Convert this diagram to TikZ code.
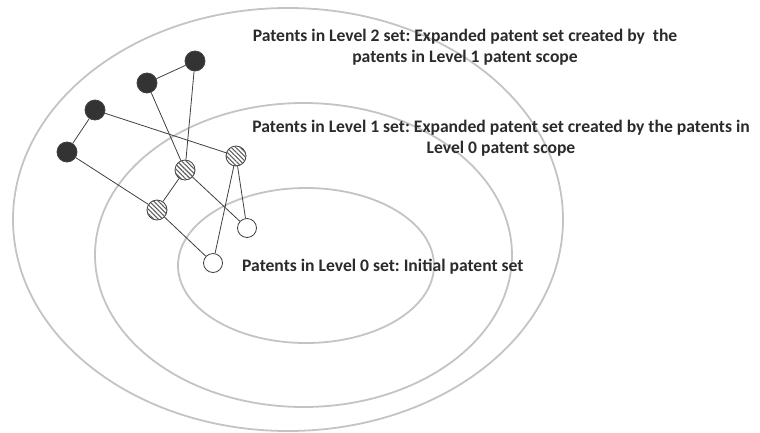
\documentclass[tikz,border=0pt]{standalone}
\usepackage{fontspec}
\setmainfont{Carlito}
\frenchspacing
\usetikzlibrary{patterns.meta}
\definecolor{ringgray}{HTML}{C4C4C4}
\definecolor{edgegray}{HTML}{404040}
\definecolor{darkfill}{HTML}{333333}
\definecolor{labelgray}{HTML}{2B2B2B}
\tikzset{
  ring/.style={draw=ringgray, line width=1.8pt},
  link/.style={draw=edgegray, line width=0.8pt},
  lvltwo/.style={circle, draw=edgegray, line width=0.8pt, fill=darkfill, minimum size=20pt, inner sep=0pt},
  lvlone/.style={circle, draw=edgegray, line width=0.8pt, fill=white,
    postaction={pattern={Lines[angle=-45, distance=3.2pt, line width=1.1pt]}, pattern color=edgegray!85},
    minimum size=20pt, inner sep=0pt},
  lvlzero/.style={circle, draw=edgegray, line width=0.8pt, fill=white, minimum size=19pt, inner sep=0pt},
  caption/.style={text=labelgray, font=\fontsize{17.6pt}{21.5pt}\selectfont\bfseries, align=center, inner sep=0pt}
}
\begin{document}
\begin{tikzpicture}[x=1pt, y=-1pt]
  \useasboundingbox (0,0) rectangle (760,432);
  \fill[white] (0,0) rectangle (760,432);

  % nested scopes
  \draw[ring] (288,219.5) ellipse [x radius=275, y radius=211.5];
  \draw[ring] (303.5,255) ellipse [x radius=208.5, y radius=152];
  \draw[ring] (306,265.5) ellipse [x radius=128, y radius=77.5];

  % patents
  \node[lvltwo] (a) at (195,61) {};
  \node[lvltwo] (b) at (147,83) {};
  \node[lvltwo] (c) at (95,110) {};
  \node[lvltwo] (d) at (67,152) {};
  \node[lvlone] (e) at (236,156) {};
  \node[lvlone] (f) at (185,170) {};
  \node[lvlone] (g) at (157,210) {};
  \node[lvlzero] (h) at (247,228) {};
  \node[lvlzero] (i) at (213,263) {};

  % citation links
  \draw[link] (a) -- (b);
  \draw[link] (a) -- (f);
  \draw[link] (b) -- (f);
  \draw[link] (c) -- (d);
  \draw[link] (c) -- (e);
  \draw[link] (d) -- (g);
  \draw[link] (f) -- (g);
  \draw[link] (f) -- (h);
  \draw[link] (e) -- (h);
  \draw[link] (e) -- (i);
  \draw[link] (g) -- (i);

  % labels
  \node[caption] (t2) at (465,47) {Patents in Level 2 set: Expanded patent set created by~~the\\patents in Level 1 patent scope};
  \node[caption] (t1) at (501,138) {Patents in Level 1 set: Expanded patent set created by the patents in\\Level 0 patent scope};
  \node[caption, anchor=west] (t0) at (242,267) {Patents in Level 0 set: Initial patent set};
\end{tikzpicture}
\end{document}
